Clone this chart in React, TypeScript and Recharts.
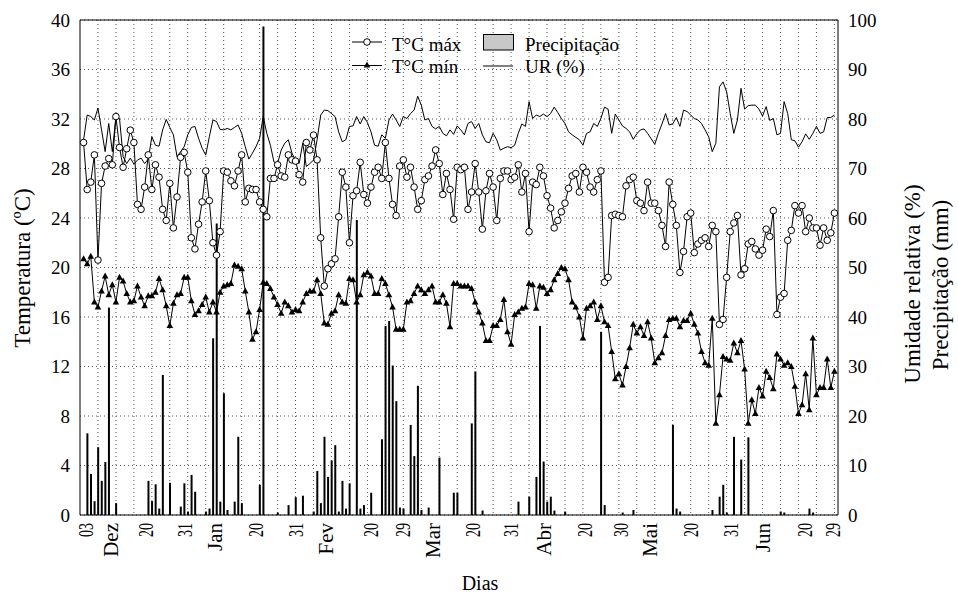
import React from 'react';
import {
  ComposedChart, Bar, Line, XAxis, YAxis, CartesianGrid, ReferenceArea, Legend,
} from 'recharts';

// valores diários (03/nov → jun)
const tmax = [
  30.1, 26.3, 26.9, 29.1, 20.6, 26.8, 28.2, 28.8, 28.3, 32.2,
  29.7, 28.1, 29.6, 31.1, 30.1, 25.1, 24.7, 26.5, 29.1, 26.3,
  28.3, 27.3, 24.7, 23.8, 26.8, 23.2, 25.7, 28.9, 29.3, 27.7,
  22.4, 21.5, 23.5, 25.3, 27.8, 25.4, 22.0, 21.0, 22.9, 27.8,
  27.7, 27.0, 26.6, 27.8, 29.1, 25.3, 26.4, 26.3, 26.3, 25.3,
  24.7, 24.1, 27.2, 27.2, 28.3, 27.4, 27.3, 29.1, 28.7, 28.6,
  27.5, 26.9, 30.1, 29.5, 30.7, 28.7, 22.4, 18.5, 19.9, 20.3,
  20.7, 24.1, 27.7, 26.5, 22.0, 25.8, 26.2, 28.5, 25.9, 25.2,
  26.5, 27.7, 28.1, 27.2, 30.1, 27.2, 25.1, 24.2, 28.2, 28.7,
  27.3, 28.1, 26.5, 24.7, 25.4, 27.1, 27.4, 28.2, 29.5, 28.4,
  25.9, 27.6, 26.3, 23.9, 28.1, 27.9, 28.1, 24.7, 26.1, 28.4,
  26.1, 23.1, 26.2, 27.6, 26.5, 23.8, 27.2, 27.8, 27.8, 27.1,
  27.3, 28.3, 26.1, 27.6, 22.9, 26.9, 26.7, 28.1, 27.4, 25.8,
  24.8, 23.2, 23.8, 24.5, 25.2, 26.4, 27.4, 27.6, 26.1, 28.1,
  27.7, 26.5, 26.1, 27.1, 27.8, 18.8, 19.2, 24.2, 24.3, 24.2,
  24.1, 26.6, 27.1, 27.3, 25.4, 25.2, 24.6, 26.9, 25.2, 25.2,
  24.6, 23.4, 21.7, 26.9, 25.1, 23.4, 19.6, 21.3, 24.1, 24.4,
  21.2, 21.9, 22.2, 22.4, 21.7, 23.4, 22.9, 15.4, 15.8, 19.2,
  22.9, 23.6, 24.2, 19.4, 19.9, 21.9, 22.1, 21.5, 21.0, 21.4,
  23.1, 22.5, 24.6, 16.2, 17.6, 17.9, 22.2, 23.0, 25.0, 24.4,
  25.0, 22.9, 24.0, 23.2, 23.2, 21.8, 23.2, 22.2, 22.8, 24.4,
];

const tmin = [
  20.7, 20.3, 20.9, 17.2, 16.8, 18.1, 19.3, 17.8, 18.6, 17.2,
  19.2, 18.9, 17.9, 17.2, 17.3, 18.5, 17.6, 16.9, 17.7, 17.7,
  18.0, 19.1, 18.2, 16.9, 15.3, 17.1, 17.8, 17.9, 19.2, 19.2,
  17.3, 16.2, 16.5, 17.0, 17.6, 16.4, 17.2, 16.4, 18.0, 18.5,
  18.6, 18.7, 20.2, 20.1, 19.9, 18.1, 16.4, 14.2, 14.8, 16.6,
  18.8, 18.7, 18.3, 17.6, 17.0, 16.3, 17.2, 16.9, 16.4, 16.6,
  16.5, 17.2, 17.9, 18.1, 18.1, 19.0, 17.9, 15.5, 15.4, 16.3,
  16.5, 17.8, 17.2, 17.1, 19.1, 19.0, 17.2, 17.8, 19.4, 19.6,
  19.3, 17.9, 17.9, 19.1, 18.7, 17.8, 16.8, 15.0, 15.0, 15.0,
  17.2, 17.3, 17.9, 18.5, 18.2, 17.9, 18.2, 18.5, 17.2, 17.2,
  17.8, 17.1, 15.2, 18.7, 18.7, 18.5, 18.5, 18.5, 18.3, 17.2,
  16.4, 15.5, 14.1, 14.1, 15.3, 15.3, 15.8, 17.4, 14.8, 13.8,
  16.2, 16.4, 16.7, 16.8, 18.7, 18.6, 16.7, 18.5, 18.4, 17.9,
  18.2, 19.0, 19.5, 20.0, 19.9, 19.0, 17.2, 16.8, 16.0, 14.3,
  16.7, 16.9, 17.2, 15.8, 16.9, 15.6, 15.3, 13.2, 11.0, 11.4,
  10.5, 12.0, 13.5, 15.4, 14.7, 15.2, 14.5, 15.6, 14.3, 12.3,
  12.7, 13.1, 14.5, 15.8, 15.9, 15.9, 15.2, 15.7, 15.7, 16.3,
  15.4, 14.7, 13.2, 12.3, 12.1, 15.9, 7.4, 9.7, 12.8, 12.6,
  12.5, 13.9, 13.1, 14.1, 11.8, 7.4, 9.3, 8.2, 10.3, 9.6,
  11.6, 11.1, 10.2, 13.0, 12.6, 12.1, 12.3, 12.0, 10.4, 8.2,
  8.9, 11.4, 8.5, 14.3, 9.7, 10.3, 10.3, 12.6, 10.3, 11.6,
];

const ur = [
  75.8, 80.8, 80.5, 79.8, 82.2, 77.8, 73.4, 79.1, 73.4, 80.5,
  80.1, 72.4, 71.0, 72.1, 70.9, 71.7, 72.1, 71.0, 71.9, 76.4,
  74.7, 74.5, 77.8, 79.9, 78.3, 76.8, 72.4, 73.4, 74.4, 76.8,
  78.3, 78.5, 76.1, 74.1, 72.7, 76.4, 79.8, 79.5, 77.9, 77.8,
  78.1, 77.8, 78.3, 78.8, 77.1, 74.4, 71.9, 73.1, 74.4, 76.1,
  80.5, 77.1, 74.7, 71.3, 71.0, 73.7, 75.1, 75.8, 73.1, 71.7,
  71.0, 75.1, 70.4, 71.0, 71.7, 75.8, 80.8, 81.8, 81.7, 81.1,
  80.5, 77.4, 75.4, 75.8, 78.5, 78.6, 80.5, 79.0, 80.5, 79.3,
  77.4, 74.7, 74.5, 76.8, 76.1, 79.8, 81.0, 79.8, 78.5, 80.5,
  80.1, 81.1, 81.8, 84.6, 82.8, 79.8, 80.1, 78.5, 78.0, 78.5,
  77.1, 76.6, 77.8, 76.9, 78.6, 77.8, 76.8, 79.1, 79.5, 78.1,
  79.1, 76.8, 75.4, 75.2, 77.1, 75.8, 73.7, 74.1, 74.4, 74.2,
  74.7, 77.1, 79.0, 78.5, 83.5, 80.1, 80.8, 80.5, 81.0, 80.5,
  81.1, 82.4, 81.3, 80.1, 79.1, 77.4, 76.8, 76.3, 75.8, 74.7,
  77.1, 77.4, 79.1, 78.5, 80.1, 82.4, 82.0, 77.1, 81.0, 79.8,
  78.6, 78.1, 77.4, 75.9, 77.0, 77.8, 78.0, 77.1, 76.0, 74.9,
  77.1, 79.0, 81.1, 78.8, 79.0, 80.3, 78.5, 81.8, 81.5, 80.8,
  80.1, 79.8, 79.1, 77.8, 76.4, 73.4, 75.1, 86.5, 87.5, 85.5,
  81.1, 77.1, 79.8, 86.2, 82.0, 82.7, 82.8, 82.8, 82.0, 80.6,
  82.5, 79.7, 80.1, 76.8, 77.1, 83.5, 81.1, 75.8, 75.6, 74.3,
  75.4, 77.0, 75.9, 77.1, 78.5, 77.1, 77.4, 80.3, 80.3, 80.8,
];

const precipitacao = [
  0, 16.5, 8.3, 2.8, 13.7, 6.9, 10.7, 41.9, 0, 2.4,
  0, 0, 0, 0, 0, 0, 0, 0, 6.9, 2.8,
  6.2, 1.3, 28.3, 0, 6.5, 0, 0, 1.7, 6.4, 0.7,
  8.1, 4.7, 0, 0, 0.7, 1.3, 35.7, 58.9, 2.7, 24.6,
  1.0, 0, 2.7, 15.8, 2.4, 0, 0, 0, 0, 6.1,
  98.7, 0, 0, 0, 0.5, 0, 0, 2.0, 0, 3.6,
  0, 3.9, 0, 0, 0.7, 8.9, 2.4, 15.8, 7.7, 11.0,
  14.1, 0.7, 6.9, 1.3, 6.4, 0, 59.6, 1.3, 2.0, 0,
  4.5, 0, 0, 15.3, 38.2, 39.2, 30.2, 23.0, 1.5, 1.3,
  0, 18.2, 11.9, 26.1, 1.0, 0, 1.5, 0, 0, 11.6,
  0, 0, 0, 4.5, 4.5, 0, 0, 0, 18.5, 29.0,
  0, 0.9, 0, 0, 0, 0, 0, 0, 0, 0,
  0, 2.7, 0, 0, 3.7, 0, 7.7, 38.2, 10.8, 2.7,
  3.7, 0.9, 0, 0, 0.7, 0, 0, 0, 0, 0,
  0, 0, 0, 0, 37.0, 2.0, 0, 0, 0, 0,
  0.5, 0, 0, 1.0, 0, 0, 0, 0, 0, 0,
  0, 0, 0, 0, 18.2, 1.3, 0.7, 0, 0, 0,
  0, 0, 0, 0, 0, 1.0, 0, 3.7, 6.1, 0.5,
  0, 15.8, 0, 11.2, 0, 15.7, 0, 0, 0, 0,
  0, 0, 0, 0, 0.7, 0.5, 0, 0, 0, 0,
  0, 0, 1.3, 0.5, 0, 0, 0, 0, 0, 0,
];

// rótulos do eixo x e o dia (índice) em que cada um fica
const tickDias = [
  0.75, 7.7, 17.3, 28.1, 36.5, 48.1, 59.2, 67.6, 79.9, 88.9, 97.2,
  108.4, 119.1, 128.3, 139.5, 149.7, 157.6, 169.2, 180.3, 189.1, 200.7, 208.6,
];
const tickRotulos = [
  '03', 'Dez', '20', '31', 'Jan', '20', '31', 'Fev', '20', '29', 'Mar',
  '20', '31', 'Abr', '20', '30', 'Mai', '20', '31', 'Jun', '20', '29',
];
const ticksTemp = [0, 4, 8, 12, 16, 20, 24, 28, 32, 36, 40];
const ticksDir = [0, 10, 20, 30, 40, 50, 60, 70, 80, 90, 100];

const dados = tmax.map((v, i) => ({
  dia: i, tmax: v, tmin: tmin[i], ur: ur[i], prec: precipitacao[i],
}));

// grade vertical a cada 5 dias
const gradeDias = Array.from({ length: 42 }, (_, k) => 4 + 5 * k);

const FONTE = 'Liberation Serif, DejaVu Serif, serif';

function DiaTick(props: any) {
  const { x, index } = props;
  const rotulo = tickRotulos[index] ?? '';
  const mes = /[A-Za-z]/.test(rotulo);
  const ty = 523;
  const extra = mes ? {} : { textLength: 14, lengthAdjust: 'spacingAndGlyphs' };
  return (
    <text
      x={x}
      y={ty}
      transform={`rotate(-90 ${x} ${ty})`}
      textAnchor="end"
      dominantBaseline="central"
      fontSize={mes ? 21 : 20}
      style={{ fontFamily: FONTE }}
      fill="#000"
      {...extra}
    >
      {rotulo}
    </text>
  );
}

function Triangulo(props: any) {
  const { cx, cy, index } = props;
  if (cx == null || cy == null) return <g key={`tri-${index}`} />;
  return (
    <path
      key={`tri-${index}`}
      d={`M${cx},${cy - 3.6}L${cx + 3.3},${cy + 2.4}L${cx - 3.3},${cy + 2.4}Z`}
      fill="#000"
    />
  );
}

function Legenda() {
  return (
    <svg width={300} height={55} style={{ display: 'block', overflow: 'visible', fontFamily: FONTE }}>
      <line x1={12} x2={42} y1={14} y2={14} stroke="#000" />
      <circle cx={27} cy={14} r={3.3} fill="#fff" stroke="#000" />
      <text x={52} y={23} fontSize={19} style={{ fontFamily: FONTE }}>T°C máx</text>
      <line x1={12} x2={42} y1={37.5} y2={37.5} stroke="#000" />
      <path d="M27,33.6 L30.3,39.6 L23.7,39.6 Z" fill="#000" />
      <text x={52} y={45} fontSize={19} style={{ fontFamily: FONTE }}>T°C mín</text>
      <rect x={143.5} y={6.5} width={30} height={15.5} fill="#c8c8c8" stroke="#000" />
      <text x={185} y={23} fontSize={19} style={{ fontFamily: FONTE }}>Precipitação</text>
      <line x1={143} x2={173} y1={38} y2={38} stroke="#000" />
      <text x={185} y={45} fontSize={19} style={{ fontFamily: FONTE }}>UR (%)</text>
    </svg>
  );
}

function Titulo({ x, y, children }: { x: number; y: number; children: React.ReactNode }) {
  return (
    <text
      x={x}
      y={y}
      transform={`rotate(-90 ${x} ${y})`}
      textAnchor="middle"
      dominantBaseline="central"
      fontSize={23}
      style={{ fontFamily: FONTE }}
      fill="#000"
    >
      {children}
    </text>
  );
}

const estiloTick = { fontSize: 19, fill: '#000', style: { fontFamily: FONTE } };

export default function App() {
  return (
    <div
      style={{
        position: 'absolute', left: 0, top: 0, width: 958, height: 593,
        background: '#fff', fontFamily: FONTE,
      }}
    >
      <ComposedChart
        width={958}
        height={593}
        data={dados}
        margin={{ top: 20, right: 0, bottom: 0, left: 0 }}
        style={{ fontFamily: FONTE }}
      >
        <CartesianGrid
          yAxisId="temp"
          stroke="#555"
          strokeDasharray="1 3"
          verticalValues={gradeDias}
        />
        <XAxis
          dataKey="dia"
          type="number"
          domain={[-1, 210]}
          ticks={tickDias}
          interval={0}
          height={78}
          tickLine={false}
          axisLine={false}
          tick={<DiaTick />}
          label={{
            content: () => (
              <text x={480} y={590} textAnchor="middle" fontSize={20} style={{ fontFamily: FONTE }} fill="#000">
                Dias
              </text>
            ),
          }}
        />
        <YAxis
          yAxisId="temp"
          domain={[0, 40]}
          ticks={ticksTemp}
          interval={0}
          width={80}
          tickLine={false}
          axisLine={false}
          tickMargin={4}
          tick={estiloTick}
          label={{ content: () => <Titulo x={22} y={268}>Temperatura (ºC)</Titulo> }}
        />
        <YAxis
          yAxisId="dir"
          orientation="right"
          domain={[0, 100]}
          ticks={ticksDir}
          interval={0}
          width={120}
          tickLine={false}
          axisLine={false}
          tickMargin={4}
          tick={estiloTick}
          label={{
            content: () => (
              <g>
                <Titulo x={912} y={284}>Umidade relativa (%)</Titulo>
                <Titulo x={940} y={285}>Precipitação (mm)</Titulo>
              </g>
            ),
          }}
        />
        <Bar yAxisId="dir" dataKey="prec" barSize={2} fill="#000" isAnimationActive={false} />
        <Line
          yAxisId="dir"
          type="linear"
          dataKey="ur"
          stroke="#000"
          strokeWidth={1}
          dot={false}
          activeDot={false}
          isAnimationActive={false}
        />
        <Line
          yAxisId="temp"
          type="linear"
          dataKey="tmax"
          stroke="#000"
          strokeWidth={1}
          dot={{ r: 3.3, fill: '#fff', stroke: '#000', strokeWidth: 1 }}
          activeDot={false}
          isAnimationActive={false}
        />
        <Line
          yAxisId="temp"
          type="linear"
          dataKey="tmin"
          stroke="#000"
          strokeWidth={1}
          dot={Triangulo}
          activeDot={false}
          isAnimationActive={false}
        />
        <ReferenceArea
          yAxisId="temp"
          x1={-1}
          x2={210}
          y1={0}
          y2={40}
          fill="none"
          fillOpacity={0}
          stroke="#000"
          strokeWidth={1}
        />
        <Legend
          layout="horizontal"
          verticalAlign="middle"
          align="center"
          content={() => <Legenda />}
          wrapperStyle={{ position: 'absolute', left: 340, top: 28, width: 300, height: 55 }}
        />
      </ComposedChart>
    </div>
  );
}
